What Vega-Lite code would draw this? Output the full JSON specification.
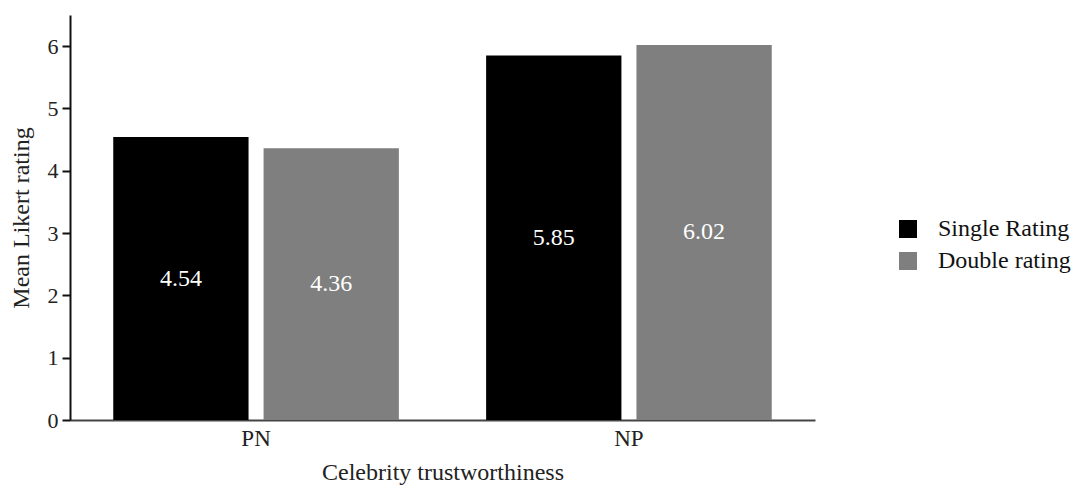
{
  "$schema": "https://vega.github.io/schema/vega-lite/v6.json",
  "autosize": {"type": "none"},
  "padding": {"left": 70, "top": 15, "right": 258, "bottom": 67},
  "width": 745,
  "height": 405,
  "background": "white",
  "data": {"values": [
    {"group": "PN", "condition": "Single Rating", "value": 4.54, "label": "4.54"},
    {"group": "PN", "condition": "Double rating", "value": 4.36, "label": "4.36"},
    {"group": "NP", "condition": "Single Rating", "value": 5.85, "label": "5.85"},
    {"group": "NP", "condition": "Double rating", "value": 6.02, "label": "6.02"}
  ]},
  "config": {
    "font": "Liberation Serif",
    "view": {"stroke": null},
    "axis": {"grid": false, "labelFont": "Liberation Serif", "titleFont": "Liberation Serif", "labelFontSize": 23, "titleFontSize": 24, "titleFontWeight": "normal", "labelColor": "#222", "titleColor": "#222"},
    "legend": {"labelFont": "Liberation Serif", "labelFontSize": 24, "labelColor": "#111"}
  },
  "encoding": {
    "x": {
      "field": "group", "type": "nominal", "sort": ["PN", "NP"],
      "scale": {"paddingInner": 0.234, "paddingOuter": 0.116},
      "axis": {"title": "Celebrity trustworthiness", "labelAngle": 0, "ticks": false, "labelPadding": 7, "titlePadding": 10, "domainColor": "#444", "domainWidth": 2}
    },
    "xOffset": {
      "field": "condition", "type": "nominal", "sort": ["Single Rating", "Double rating"],
      "scale": {"paddingInner": 0.1, "paddingOuter": 0}
    }
  },
  "layer": [
    {
      "mark": {"type": "bar"},
      "encoding": {
        "y": {
          "field": "value", "type": "quantitative",
          "scale": {"domain": [0, 6.5], "nice": false},
          "axis": {"title": "Mean Likert rating", "values": [0, 1, 2, 3, 4, 5, 6], "format": "d", "labelFontSize": 22, "tickSize": 8, "tickWidth": 2, "tickColor": "#111", "domainColor": "#111", "domainWidth": 2, "labelPadding": 4, "titlePadding": 14}
        },
        "color": {
          "field": "condition", "type": "nominal", "sort": ["Single Rating", "Double rating"],
          "scale": {"domain": ["Single Rating", "Double rating"], "range": ["#000000", "#7f7f7f"]},
          "legend": {"title": null, "orient": "none", "legendX": 826, "legendY": 202, "symbolType": "square", "symbolSize": 324, "symbolStrokeWidth": 0, "rowPadding": 8, "labelOffset": 18}
        }
      }
    },
    {
      "mark": {"type": "text", "color": "white", "fontSize": 24, "font": "Liberation Serif"},
      "encoding": {
        "y": {"field": "mid", "type": "quantitative"},
        "text": {"field": "label"}
      },
      "transform": [{"calculate": "datum.value / 2", "as": "mid"}]
    }
  ]
}
